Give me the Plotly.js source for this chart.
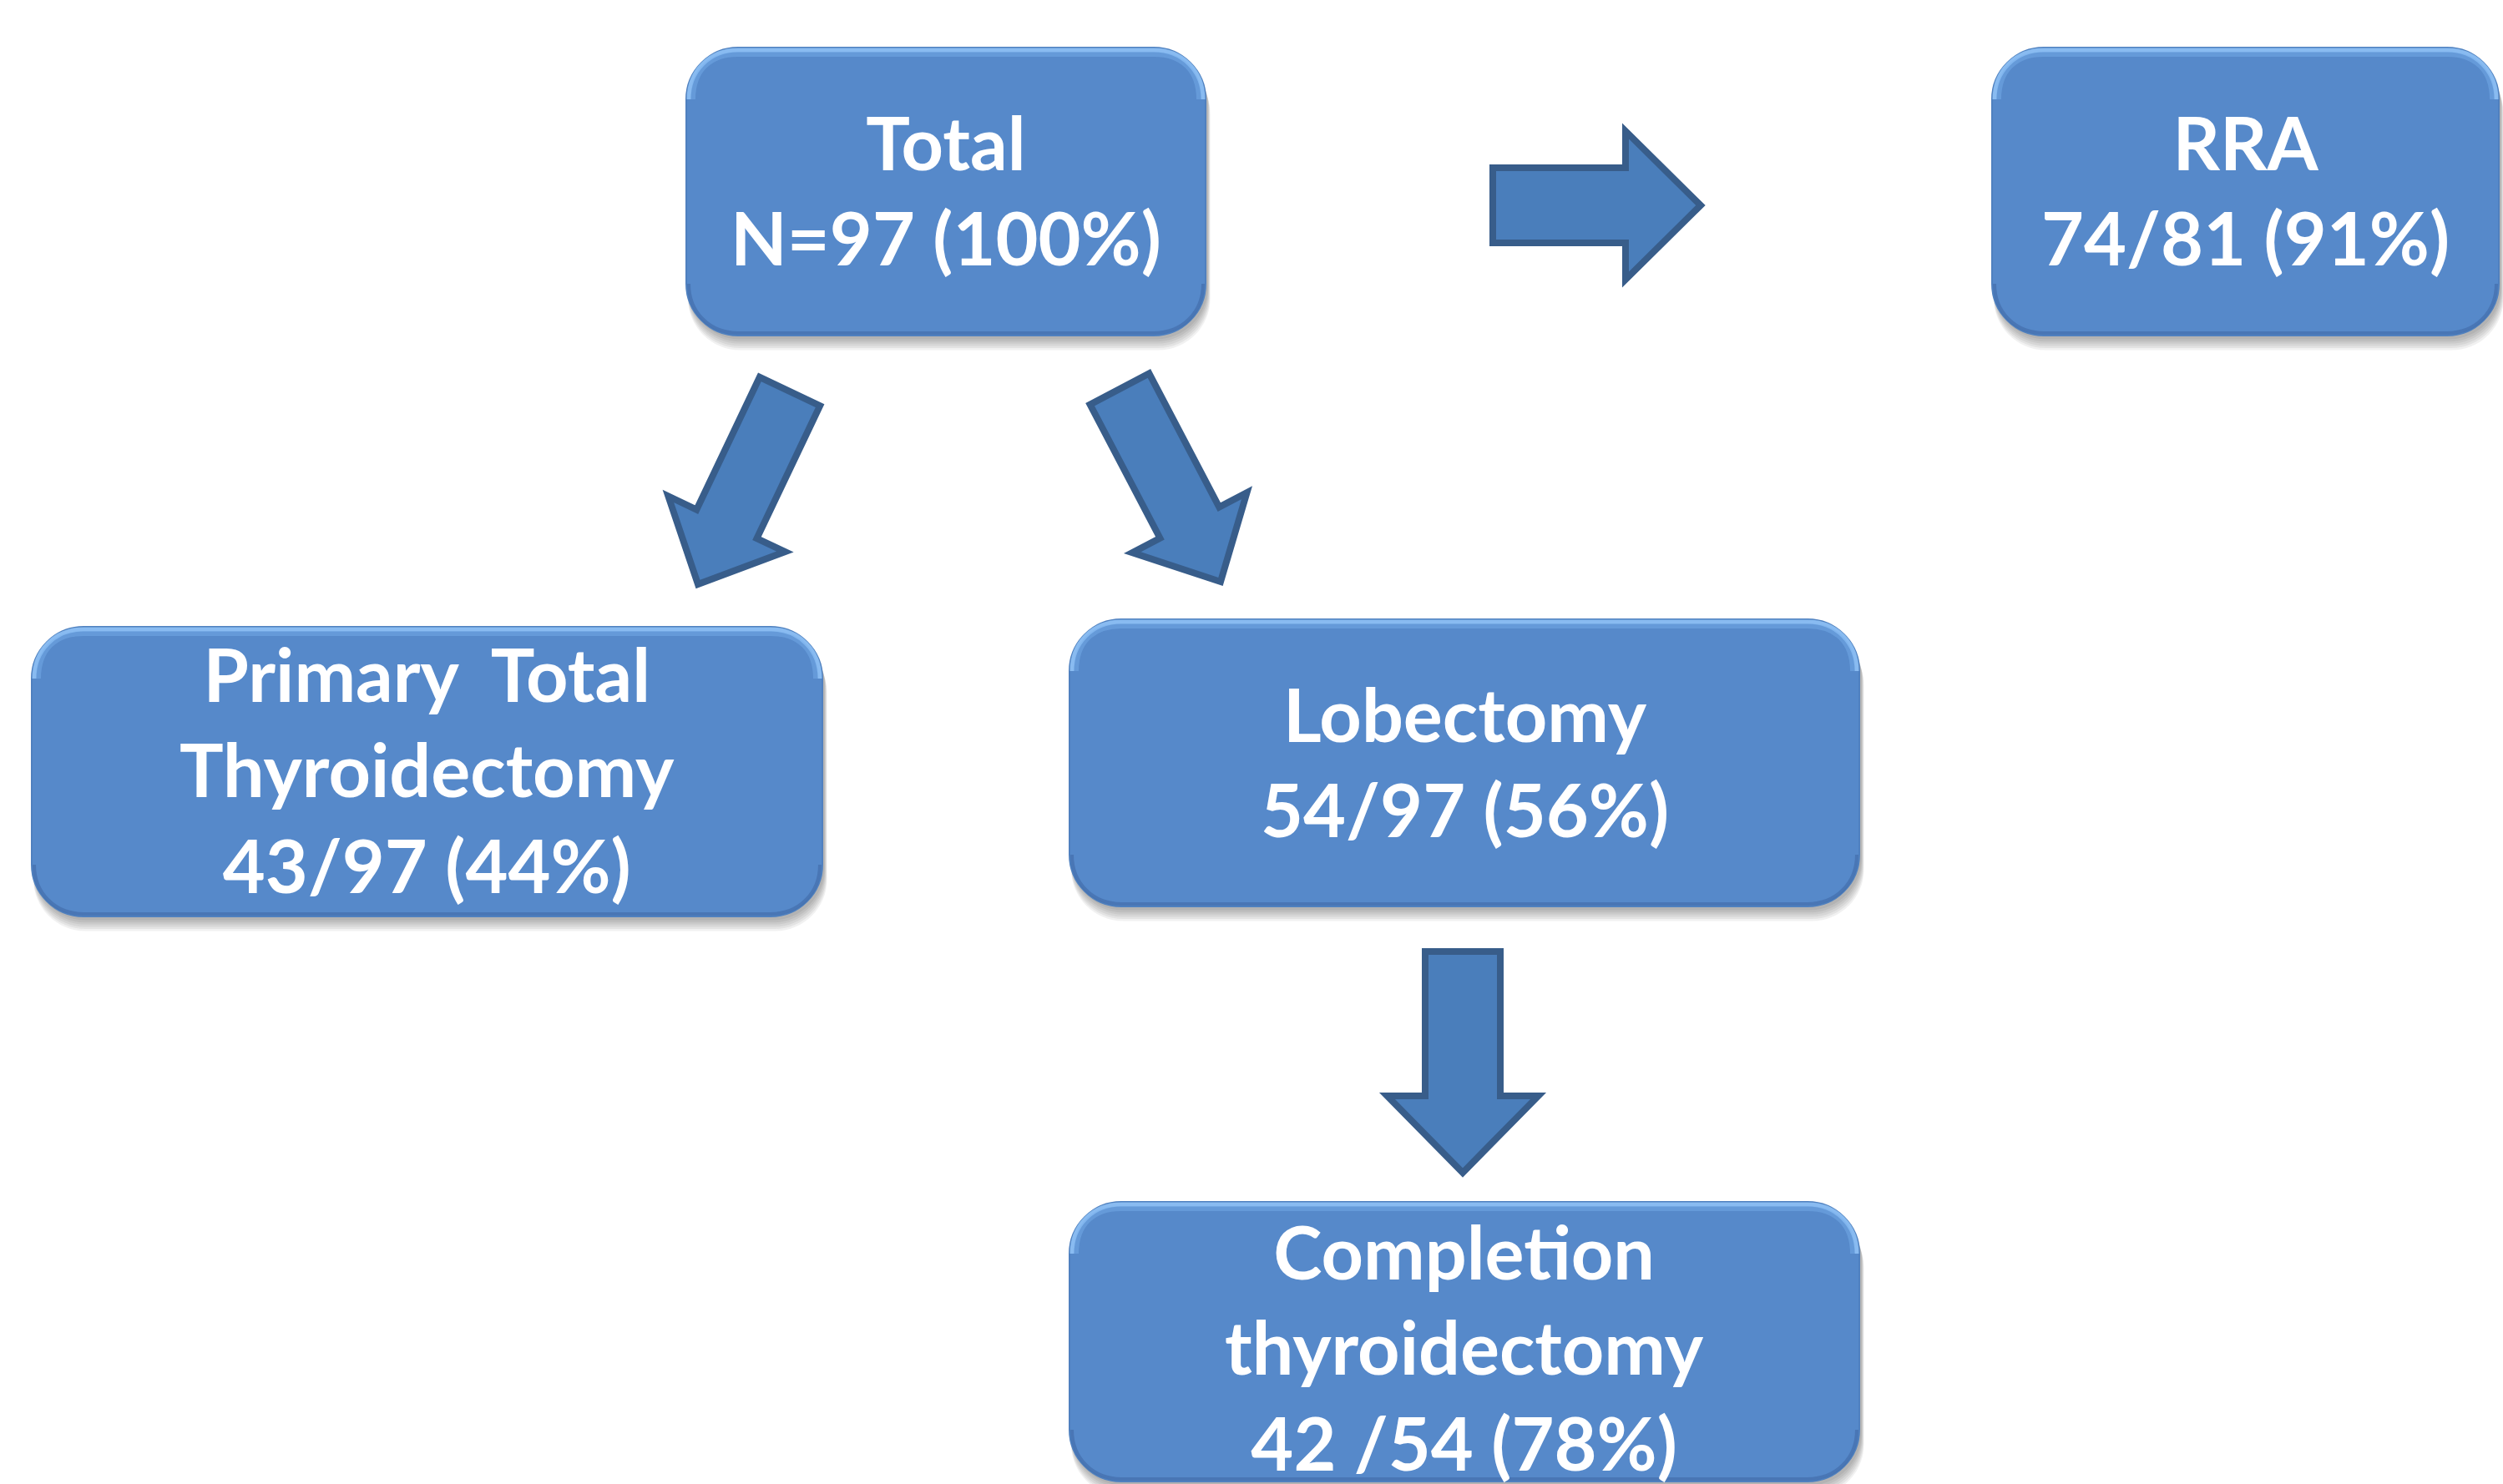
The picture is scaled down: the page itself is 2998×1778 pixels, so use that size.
<!DOCTYPE html>
<html>
<head>
<meta charset="utf-8">
<script src="https://cdn.plot.ly/plotly-3.0.1.min.js"></script>
<style>html,body{margin:0;padding:0;background:#fff;}#chart{width:2998px;height:1778px;}</style>
</head>
<body>
<div id="chart"></div>
<script>
// ---- data (flowchart nodes) ----
const nodeIds     = ["total", "rra", "primary", "lobectomy", "completion"];
const nodeTitles  = [["Total"], ["RRA"], ["Primary  Total", "Thyroidectomy"], ["Lobectomy"], ["Completion", "thyroidectomy"]];
const nodeCounts  = ["N=97", "74/81", "43/97", "54/97", "42 /54"];
const nodePercent = ["100%", "91%", "44%", "56%", "78%"];
const edges       = [["total", "rra"], ["total", "primary"], ["total", "lobectomy"], ["lobectomy", "completion"]];

// ---- layout geometry (pixel-like units of the canvas axes) ----
const boxPos = {
  total:      {x0: 822,  x1: 1444, y0: 57,   y1: 402,  dy: -3},
  rra:        {x0: 2386, x1: 2993, y0: 57,   y1: 402,  dy: -3},
  primary:    {x0: 38,   x1: 985,  y0: 751,  y1: 1098, dy: -3},
  lobectomy:  {x0: 1281, x1: 2227, y0: 742,  y1: 1086, dy: -2},
  completion: {x0: 1281, x1: 2227, y0: 1440, y1: 1775, dy: 6}
};
const arrowPos = {
  "total>rra":            {tail: [1788, 246], tip: [2037, 246], sw: 90, hw: 178, hl: 90},
  "total>primary":        {tail: [946, 469],  tip: [836, 700],  sw: 80, hw: 155, hl: 80},
  "total>lobectomy":      {tail: [1341, 466], tip: [1462, 697], sw: 80, hw: 155, hl: 80},
  "lobectomy>completion": {tail: [1752, 1140], tip: [1752, 1405], sw: 90, hw: 181, hl: 92}
};

const W = 2998, H = 1778;
const R = 62;

// rounded rectangle using cubic curves (near-circular corners)
function rrect(x0, x1, y0, y1, r) {
  const k = r * 0.45;
  return `M ${x0 + r},${y0} L ${x1 - r},${y0} C ${x1 - k},${y0} ${x1},${y0 + k} ${x1},${y0 + r} ` +
         `L ${x1},${y1 - r} C ${x1},${y1 - k} ${x1 - k},${y1} ${x1 - r},${y1} L ${x0 + r},${y1} ` +
         `C ${x0 + k},${y1} ${x0},${y1 - k} ${x0},${y1 - r} L ${x0},${y0 + r} C ${x0},${y0 + k} ${x0 + k},${y0} ${x0 + r},${y0} Z`;
}
function topEdge(x0, x1, y0, r, inset) {
  const yy = y0 + inset, k = r * 0.45;
  return `M ${x0 + inset},${y0 + r} C ${x0 + inset},${y0 + k} ${x0 + k},${yy} ${x0 + r},${yy} L ${x1 - r},${yy} C ${x1 - k},${yy} ${x1 - inset},${y0 + k} ${x1 - inset},${y0 + r}`;
}
function bottomEdge(x0, x1, y1, r, inset) {
  const yy = y1 - inset, k = r * 0.45;
  return `M ${x0 + inset},${y1 - r} C ${x0 + inset},${y1 - k} ${x0 + k},${yy} ${x0 + r},${yy} L ${x1 - r},${yy} C ${x1 - k},${yy} ${x1 - inset},${y1 - k} ${x1 - inset},${y1 - r}`;
}
function arrowPath(a) {
  const [tx, ty] = a.tail, [px, py] = a.tip;
  const L = Math.hypot(px - tx, py - ty);
  const ux = (px - tx) / L, uy = (py - ty) / L;
  const nx = -uy, ny = ux;
  const bx = px - ux * a.hl, by = py - uy * a.hl;
  const pts = [
    [tx + nx * a.sw / 2, ty + ny * a.sw / 2],
    [bx + nx * a.sw / 2, by + ny * a.sw / 2],
    [bx + nx * a.hw / 2, by + ny * a.hw / 2],
    [px, py],
    [bx - nx * a.hw / 2, by - ny * a.hw / 2],
    [bx - nx * a.sw / 2, by - ny * a.sw / 2],
    [tx - nx * a.sw / 2, ty - ny * a.sw / 2]
  ];
  return "M " + pts.map(p => p[0].toFixed(1) + "," + p[1].toFixed(1)).join(" L ") + " Z";
}

const shapes = [];
const annotations = [];

// boxes
nodeIds.forEach((id, i) => {
  const b = boxPos[id];
  // soft shadow
  for (let k = 1; k <= 6; k++) {
    shapes.push({type: "path", xref: "x", yref: "y", layer: "below",
      path: rrect(b.x0 + 2, b.x1 + 2 + k * 0.6, b.y0 + 4 + k * 2.2, b.y1 + 2 + k * 2.6, R),
      fillcolor: "rgba(0,0,0,0.055)", line: {width: 0}});
  }
  shapes.push({type: "path", xref: "x", yref: "y", layer: "below",
    path: rrect(b.x0, b.x1, b.y0, b.y1, R),
    fillcolor: "#5689CA", line: {color: "#4F80BF", width: 2}});
  // top highlight & bottom darker rim
  shapes.push({type: "path", xref: "x", yref: "y", layer: "below",
    path: topEdge(b.x0, b.x1, b.y0, R, 3), fillcolor: "rgba(0,0,0,0)",
    line: {color: "rgba(150,200,250,0.8)", width: 5}});
  shapes.push({type: "path", xref: "x", yref: "y", layer: "below",
    path: topEdge(b.x0, b.x1, b.y0, R, 8), fillcolor: "rgba(0,0,0,0)",
    line: {color: "rgba(120,175,235,0.45)", width: 6}});
  shapes.push({type: "path", xref: "x", yref: "y", layer: "below",
    path: bottomEdge(b.x0, b.x1, b.y1, R, 3), fillcolor: "rgba(0,0,0,0)",
    line: {color: "rgba(60,100,160,0.5)", width: 4}});

  const lines = nodeTitles[i].concat([nodeCounts[i] + " (" + nodePercent[i] + ")"]);
  annotations.push({
    xref: "x", yref: "y",
    x: (b.x0 + b.x1) / 2, y: (b.y0 + b.y1) / 2 + b.dy,
    text: lines.join("<br>"),
    showarrow: false, align: "center", xanchor: "center", yanchor: "middle",
    font: {family: "Lato, 'Open Sans', sans-serif", size: 88, color: "#FFFFFF", weight: 700}
  });
});

// arrows
edges.forEach(e => {
  const a = arrowPos[e[0] + ">" + e[1]];
  shapes.push({type: "path", xref: "x", yref: "y", layer: "above",
    path: arrowPath(a), fillcolor: "#4A7EBB",
    line: {color: "#385D8A", width: 8}});
});

const data = [{x: [0, W], y: [0, H], mode: "markers", marker: {opacity: 0}, hoverinfo: "skip", showlegend: false}];

const layout = {
  width: W, height: H,
  margin: {l: 0, r: 0, t: 0, b: 0, pad: 0},
  paper_bgcolor: "#FFFFFF", plot_bgcolor: "#FFFFFF",
  xaxis: {range: [0, W], autorange: false, visible: false, showgrid: false, zeroline: false, fixedrange: true},
  yaxis: {range: [H, 0], autorange: false, visible: false, showgrid: false, zeroline: false, fixedrange: true},
  shapes: shapes,
  annotations: annotations,
  showlegend: false
};

Plotly.newPlot("chart", data, layout, {staticPlot: true, displayModeBar: false});
</script>
</body>
</html>
